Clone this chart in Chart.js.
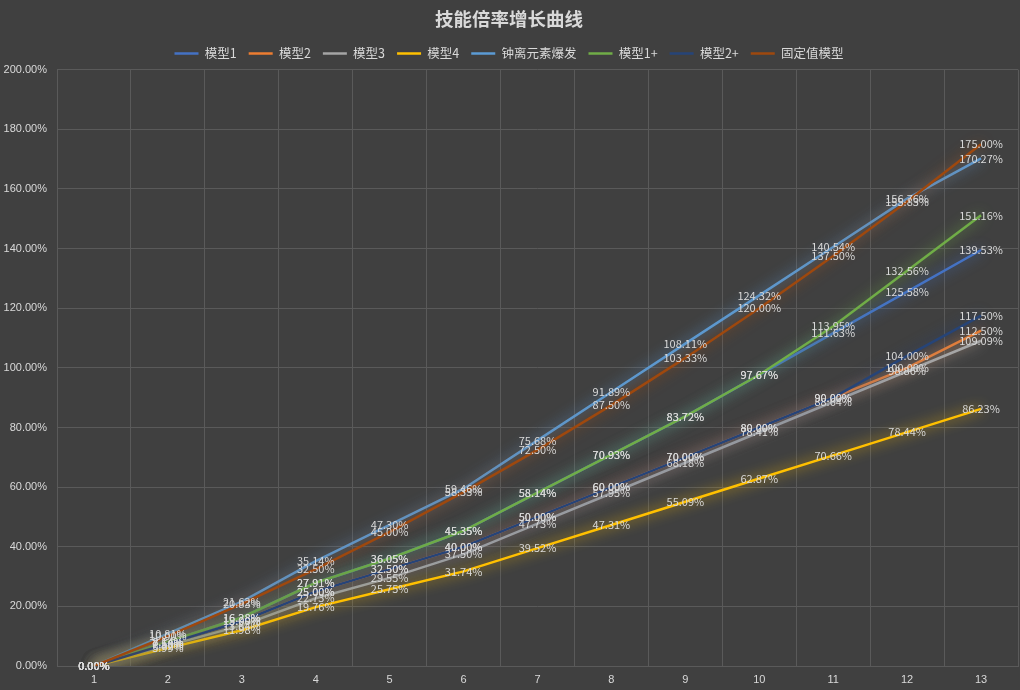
<!DOCTYPE html>
<html lang="zh-CN">
<head>
  <meta charset="UTF-8" />
  <title>技能倍率增长曲线</title>
  <script src="https://cdn.jsdelivr.net/npm/chart.js"></script>
  <style>
    body {
      margin: 0;
      background: #404040;
    }
    #wrap {
      width: 1020px;
      height: 690px;
    }
  </style>
</head>
<body>
  <div id="wrap"><canvas id="growthChart" width="1020" height="690"></canvas></div>

  <script>
    const levels = ["1", "2", "3", "4", "5", "6", "7", "8", "9", "10", "11", "12", "13"];
    const yTicks = [0, 20, 40, 60, 80, 100, 120, 140, 160, 180, 200];

    const model1 = [0, 8.14, 16.28, 27.91, 36.05, 45.35, 58.14, 70.93, 83.72, 97.67, 111.63, 125.58, 139.53];
    const model2 = [0, 7.50, 15.00, 25.00, 32.50, 40.00, 50.00, 60.00, 70.00, 80.00, 90.00, 100.00, 112.50];
    const model3 = [0, 6.82, 13.64, 22.73, 29.55, 37.50, 47.73, 57.95, 68.18, 78.41, 88.64, 98.86, 109.09];
    const model4 = [0, 5.99, 11.98, 19.76, 25.75, 31.74, 39.52, 47.31, 55.09, 62.87, 70.66, 78.44, 86.23];
    const zhongliBurst = [0, 10.81, 21.62, 35.14, 47.30, 59.46, 75.68, 91.89, 108.11, 124.32, 140.54, 156.76, 170.27];
    const model1Plus = [0, 8.14, 16.28, 27.91, 36.05, 45.35, 58.14, 70.93, 83.72, 97.67, 113.95, 132.56, 151.16];
    const model2Plus = [0, 7.50, 15.00, 25.00, 32.50, 40.00, 50.00, 60.00, 70.00, 80.00, 90.00, 104.00, 117.50];
    const fixedModel = [0, 10.00, 20.83, 32.50, 45.00, 58.33, 72.50, 87.50, 103.33, 120.00, 137.50, 155.83, 175.00];

    const seriesNames = ["模型1", "模型2", "模型3", "模型4", "钟离元素爆发", "模型1+", "模型2+", "固定值模型"];
    const seriesData = [model1, model2, model3, model4, zhongliBurst, model1Plus, model2Plus, fixedModel];
    const seriesColors = ["#4472c4", "#ed7d31", "#a5a5a5", "#ffc000", "#5b9bd5", "#70ad47", "#264478", "#9e480e"];

    const textColor = "#d9d9d9";
    const gridColor = "#5a5a5a";

    // soft glow under each line, like the office "glow" effect
    const glowPlugin = {
      id: "glow",
      beforeDatasetDraw(chart, args) {
        const ctx = chart.ctx;
        ctx.save();
        ctx.shadowColor = args.meta.dataset.options.borderColor;
        ctx.shadowBlur = 13;
      },
      afterDatasetDraw(chart) {
        chart.ctx.restore();
      }
    };

    // value labels centred on every point
    const labelPlugin = {
      id: "pointLabels",
      afterDatasetsDraw(chart) {
        const ctx = chart.ctx;
        ctx.save();
        ctx.font = "11px 'Noto Sans CJK SC', 'Liberation Sans', sans-serif";
        ctx.fillStyle = textColor;
        ctx.textAlign = "center";
        ctx.textBaseline = "middle";
        chart.data.datasets.forEach((ds, i) => {
          const meta = chart.getDatasetMeta(i);
          meta.data.forEach((pt, j) => {
            ctx.fillText(ds.data[j].toFixed(2) + "%", pt.x, pt.y);
          });
        });
        ctx.restore();
      }
    };

    const bgPlugin = {
      id: "bg",
      beforeDraw(chart) {
        const ctx = chart.ctx;
        ctx.save();
        ctx.fillStyle = "#404040";
        ctx.fillRect(0, 0, chart.width, chart.height);
        ctx.restore();
      }
    };

    window.onload = function () {
      const ctx = document.getElementById("growthChart").getContext("2d");
      new Chart(ctx, {
        type: "line",
        data: {
          labels: levels,
          datasets: seriesNames.map((name, i) => ({
            label: name,
            data: seriesData[i],
            borderColor: seriesColors[i],
            backgroundColor: seriesColors[i],
            borderWidth: 2.5,
            pointRadius: 0,
            tension: 0,
            order: seriesNames.length - i
          }))
        },
        options: {
          responsive: false,
          animation: false,
          devicePixelRatio: 1,
          layout: { padding: { left: 0, right: 2, top: 0, bottom: 0 } },
          plugins: {
            title: {
              display: true,
              text: "技能倍率增长曲线",
              color: textColor,
              font: { size: 18.5, weight: "bold", family: "'Noto Sans CJK SC', sans-serif" },
              padding: { top: 8, bottom: 5 }
            },
            legend: {
              labels: {
                color: textColor,
                usePointStyle: true,
                pointStyle: "line",
                pointStyleWidth: 24,
                boxWidth: 24,
                padding: 12,
                font: { size: 12.5, family: "'Noto Sans CJK SC', sans-serif" },
                sort: (a, b) => a.datasetIndex - b.datasetIndex
              }
            },
            tooltip: { enabled: false }
          },
          scales: {
            x: {
              offset: true,
              grid: { color: gridColor, offset: true, drawTicks: false },
              border: { color: gridColor },
              ticks: {
                color: textColor,
                padding: 7,
                font: { size: 11, family: "'Liberation Sans', sans-serif" }
              },
              afterFit(scale) { scale.height = 24; }
            },
            y: {
              min: 0,
              max: 200,
              afterBuildTicks(scale) {
                scale.ticks = yTicks.map(v => ({ value: v }));
              },
              grid: { color: gridColor, drawTicks: false },
              border: { display: false },
              ticks: {
                color: textColor,
                padding: 10,
                font: { size: 11, family: "'Liberation Sans', sans-serif" },
                callback: v => v.toFixed(2) + "%"
              },
              afterFit(scale) { scale.width = 57; }
            }
          }
        },
        plugins: [bgPlugin, glowPlugin, labelPlugin]
      });
    };
  </script>
</body>
</html>
